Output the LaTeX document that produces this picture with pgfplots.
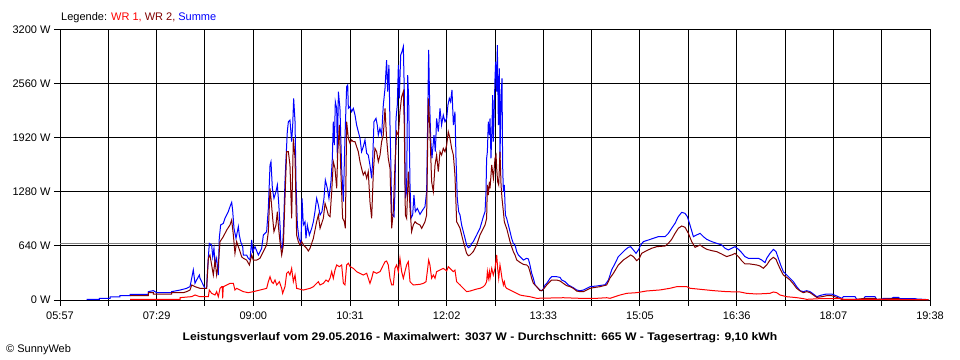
\documentclass[border=0pt]{standalone}
\usepackage{pgfplots}
\pgfplotsset{compat=1.18}
\usepackage{fontspec}
\setmainfont{Liberation Sans}
\definecolor{wrone}{RGB}{255,0,0}
\definecolor{wrtwo}{RGB}{128,0,0}
\definecolor{summe}{RGB}{0,0,255}
\definecolor{avggray}{RGB}{128,128,128}
\newcommand{\lblfont}{\fontsize{11bp}{13bp}\selectfont}
\begin{document}
\begin{tikzpicture}
\path[use as bounding box] (0,0) rectangle (960bp,360bp);
\begin{axis}[
  at={(60bp,60bp)}, anchor=south west,
  scale only axis, width=870bp, height=270bp,
  xmin=357, xmax=1178, ymin=0, ymax=3200,
  xtick={357,448.2,539.4,630.7,721.9,813.1,904.3,995.6,1086.8,1178},
  xticklabels={05:57,07:29,09:00,10:31,12:02,13:33,15:05,16:36,18:07,19:38},
  minor xtick={402.6,493.8,585.1,676.3,767.5,858.7,950.0,1041.2,1132.4},
  ytick={0,640,1280,1920,2560,3200},
  yticklabels={0 W,640 W,1280 W,1920 W,2560 W,3200 W},
  grid=both,
  major grid style={black, line width=1bp},
  minor grid style={black, line width=1bp},
  tick align=outside,
  major tick length=6bp, minor tick length=6bp,
  tick style={black, line width=1bp},
  xtick pos=left, ytick pos=left,
  axis line style={black, line width=1bp},
  every tick label/.append style={font=\lblfont, text=black},
  xticklabel style={yshift=-2bp},
  clip=false,
]
\addplot[avggray, line width=1bp] coordinates {(357,665) (1178,665)};
% Summe
\addplot[summe, line width=1bp] coordinates {
(382.2,8)(394.1,8)(394.1,20)(404.2,20)(404.2,36)(413.6,36)(413.6,51)(423.1,51)(423.1,67)(440.4,67)(440.4,99)(445.1,111)(448.2,87)(462.4,87)(462.4,99)(470.3,118)(476.5,138)(479.7,158)(482.8,356)(484.4,198)(486.5,250)(488.5,296)(489.1,257)(493.8,138)(495.4,138)(496.0,316)(497.9,671)(500.1,652)(501.1,513)(502.3,612)(503.3,415)(504.8,494)(506.4,296)(507.3,731)(508.6,889)(511.1,908)(512.7,968)(515.8,1047)(517.4,1106)(519.0,1157)(519.9,1066)(521.2,849)(523.1,731)(525.3,869)(526.2,770)(527.5,691)(529.4,632)(530.0,533)(533.1,533)(534.7,494)(536.3,474)(537.9,711)(538.8,573)(541.0,632)(544.2,533)(547.3,612)(548.9,770)(552.0,810)(553.6,1086)(555.2,1600)(556.1,1639)(557.4,1323)(558.9,1205)(560.8,1284)(562.1,1363)(563.3,1165)(564.6,889)(565.5,652)(566.8,592)(567.8,810)(569.3,1402)(570.3,1679)(571.5,1995)(572.5,2113)(574.0,2133)(575.6,1876)(576.6,2074)(577.5,2390)(578.8,2113)(579.7,1402)(581.0,889)(582.5,731)(584.4,671)(585.4,1205)(586.6,889)(588.2,928)(589.1,731)(590.4,889)(592.3,770)(594.5,849)(596.1,928)(597.6,1047)(599.2,1205)(600.8,1126)(602.4,1007)(604.2,1047)(606.1,1205)(607.4,1422)(609.3,1323)(610.8,1205)(612.7,1402)(614.0,1679)(614.9,2113)(615.9,1837)(616.8,2350)(618.1,2271)(618.7,1679)(619.7,2469)(621.2,2271)(622.8,1560)(624.4,1165)(625.9,1916)(627.5,2528)(628.5,2548)(629.1,2271)(630.6,2291)(632.2,2232)(633.8,2271)(635.4,2192)(636.9,2074)(638.5,1995)(640.1,1916)(641.6,1758)(643.2,1817)(644.8,1896)(646.4,1738)(647.9,1718)(649.5,1600)(651.1,1442)(652.0,1639)(653.3,2113)(655.2,2153)(656.4,2074)(657.4,1955)(658.9,2034)(660.5,1955)(662.1,2311)(663.7,2508)(665.2,2844)(666.2,2469)(667.4,2785)(668.4,2074)(669.3,1560)(670.0,1027)(670.9,1007)(672.2,987)(673.1,1284)(674.1,2153)(675.3,2311)(676.3,2785)(677.2,2390)(678.5,2903)(679.7,2943)(681.0,3002)(681.9,2469)(682.9,1205)(684.1,1284)(685.1,2666)(686.0,2390)(687.3,1363)(688.2,968)(689.8,1007)(691.0,1244)(692.3,1047)(694.2,1086)(696.7,1015)(699.2,1066)(701.4,1106)(703.0,1284)(703.9,2074)(704.9,2963)(705.8,2350)(706.8,1916)(708.0,1679)(709.9,1955)(711.2,1758)(712.4,2153)(714.0,1995)(715.6,2271)(717.1,2074)(718.7,2192)(720.3,2113)(721.9,2153)(723.1,2311)(724.4,2390)(725.6,2350)(726.9,2489)(728.2,2074)(729.7,2232)(730.7,1679)(731.9,1205)(733.2,1047)(734.5,1007)(736.0,889)(737.6,810)(739.2,731)(740.7,652)(742.3,620)(743.9,632)(745.5,671)(747.0,691)(750.2,770)(753.3,849)(756.5,987)(758.1,1047)(759.0,1284)(759.6,1679)(760.3,1758)(761.2,2113)(762.2,1955)(762.8,2153)(763.7,1679)(764.7,2074)(765.3,2429)(765.9,1876)(766.9,2311)(767.5,2627)(768.1,2824)(769.1,2469)(769.7,3022)(770.7,2074)(771.6,2745)(772.2,1679)(773.2,2390)(774.1,2627)(774.7,1600)(775.4,1284)(776.3,1363)(777.3,1007)(778.5,968)(780.1,889)(781.7,810)(783.2,731)(784.8,671)(786.4,652)(788.0,573)(789.5,533)(791.1,513)(792.7,494)(794.3,474)(797.4,494)(799.0,486)(800.5,415)(802.1,316)(803.7,257)(805.3,178)(806.8,158)(808.4,138)(810.0,118)(811.6,110)(813.1,130)(814.7,178)(816.3,197)(817.8,225)(819.4,257)(821.0,276)(825.7,276)(828.9,268)(830.4,237)(833.6,217)(836.7,178)(841.4,146)(844.6,118)(847.7,110)(850.9,118)(854.0,138)(857.2,158)(863.5,166)(869.8,178)(871.3,178)(874.5,237)(877.6,356)(880.8,435)(883.9,514)(887.0,553)(890.2,593)(893.3,624)(895.5,632)(898.1,593)(900.6,553)(902.8,593)(905.0,652)(907.5,692)(912.2,711)(916.9,731)(921.7,751)(928.0,751)(931.1,790)(934.2,850)(937.4,909)(940.5,988)(943.7,1039)(946.8,1027)(949.0,988)(951.5,889)(954.7,751)(957.8,771)(961.0,790)(964.1,751)(967.3,719)(972.0,692)(976.7,672)(981.4,652)(984.6,613)(987.7,593)(990.9,613)(994.0,632)(997.2,601)(1000.3,561)(1003.4,514)(1006.6,494)(1016.0,494)(1019.2,474)(1022.3,443)(1023.9,494)(1027.0,553)(1030.2,600)(1032.7,573)(1034.9,494)(1037.1,415)(1039.6,336)(1042.8,296)(1045.9,257)(1049.1,217)(1052.2,158)(1055.4,110)(1058.5,99)(1061.6,110)(1064.8,99)(1067.9,71)(1071.1,39)(1075.8,59)(1080.5,71)(1085.2,71)(1090.0,47)(1094.7,20)(1096.2,39)(1107.3,39)(1108.8,8)(1115.1,8)(1116.7,39)(1126.1,39)(1127.7,8)(1132.4,8)(1134.0,20)(1141.9,20)(1143.4,31)(1148.2,31)(1149.7,16)(1163.9,16)(1165.5,12)(1171.7,8)(1176.5,4)
};
% WR 2
\addplot[wrtwo, line width=1bp] coordinates {
(423.1,51)(440.4,51)(440.4,87)(445.1,87)(445.1,71)(462.4,71)(462.4,87)(473.4,87)(476.5,99)(479.7,118)(481.3,178)(484.4,158)(489.1,138)(495.4,138)(497.0,494)(498.5,533)(500.1,415)(501.7,296)(503.3,474)(504.8,296)(506.4,415)(508.0,691)(511.1,750)(514.3,829)(517.4,889)(519.0,948)(520.6,770)(522.1,553)(523.7,691)(525.3,632)(526.9,573)(528.4,513)(530.0,494)(533.1,474)(535.7,415)(537.9,533)(539.4,474)(542.6,474)(545.7,494)(548.9,573)(552.0,652)(553.6,810)(555.2,1323)(556.1,1205)(557.7,968)(558.9,810)(560.8,889)(562.1,1047)(563.3,849)(564.6,691)(566.2,533)(567.8,652)(569.3,1205)(570.9,1758)(572.5,1758)(574.0,1600)(575.6,968)(577.2,1916)(578.8,1679)(580.3,770)(581.9,691)(583.5,652)(585.1,691)(586.6,652)(588.2,632)(589.8,612)(591.3,581)(592.9,612)(596.1,731)(599.2,928)(600.8,1007)(602.4,849)(605.5,968)(607.1,1145)(608.6,1086)(610.2,1007)(611.8,987)(613.4,1284)(614.9,1639)(616.5,1560)(618.1,1323)(619.0,1718)(620.6,2074)(621.8,1600)(623.7,968)(625.3,928)(626.3,849)(627.5,2113)(629.1,1916)(630.7,1857)(632.2,1896)(633.8,1876)(635.4,1876)(636.9,1817)(638.5,1758)(640.1,1639)(641.6,1560)(643.2,1481)(644.8,1521)(646.4,1442)(647.9,1521)(649.5,1165)(651.1,968)(652.7,1521)(654.2,1797)(655.8,1758)(657.4,1639)(659.0,1718)(660.5,1876)(662.1,1955)(663.7,2271)(665.2,1916)(666.8,1679)(668.4,1560)(670.0,849)(671.5,1047)(673.1,1600)(674.7,1995)(676.3,1955)(677.8,2232)(679.4,2410)(681.0,2469)(681.9,2074)(682.9,1007)(684.1,968)(685.7,1521)(687.3,1086)(688.8,810)(690.4,889)(692.0,928)(693.6,908)(696.7,889)(698.3,849)(699.9,889)(701.4,928)(703.0,1007)(704.6,2390)(706.1,1995)(707.7,1402)(709.3,1284)(710.9,1600)(712.4,1718)(714.0,1521)(715.6,1758)(717.1,1718)(718.7,1797)(720.3,1758)(721.9,1837)(723.4,1995)(725.0,1916)(726.6,1797)(728.2,1718)(729.7,1481)(731.3,928)(732.9,889)(734.5,849)(737.6,691)(740.7,553)(742.3,525)(743.9,533)(747.0,573)(750.2,652)(753.3,770)(754.9,810)(756.5,849)(758.1,889)(759.6,968)(760.3,1363)(761.2,1244)(762.2,1402)(762.8,1323)(764.4,1600)(766.0,1442)(767.5,1679)(768.5,1718)(769.1,1560)(770.0,1402)(771.0,1363)(772.2,1758)(773.2,1363)(774.1,1205)(775.4,1047)(776.3,928)(777.3,889)(778.5,849)(780.1,770)(781.7,691)(783.2,632)(784.8,573)(786.4,533)(788.0,474)(791.1,446)(794.3,422)(797.4,415)(799.0,395)(800.5,336)(802.1,257)(803.7,197)(806.8,158)(810.0,110)(811.6,110)(813.1,126)(816.3,178)(819.4,217)(821.0,237)(825.7,237)(828.9,225)(832.0,197)(835.1,170)(838.3,158)(841.4,138)(844.6,106)(847.7,99)(850.9,99)(854.0,118)(857.2,138)(860.3,146)(866.6,158)(872.9,178)(876.0,260)(879.2,316)(883.9,415)(888.6,474)(893.3,514)(895.5,534)(898.1,514)(901.2,466)(903.7,494)(905.9,553)(910.6,585)(915.4,613)(920.1,632)(928.0,640)(931.1,672)(934.2,719)(937.4,790)(940.5,850)(943.7,877)(946.8,862)(950.0,790)(953.1,692)(956.3,624)(961.0,652)(964.1,624)(967.3,601)(972.0,585)(976.7,573)(981.4,545)(986.1,514)(990.9,534)(994.0,553)(997.2,514)(1000.3,466)(1003.4,427)(1008.2,427)(1014.5,415)(1017.6,403)(1020.7,376)(1023.9,415)(1027.0,474)(1030.2,506)(1032.7,482)(1034.9,415)(1037.1,355)(1039.6,296)(1042.8,268)(1045.9,237)(1049.1,189)(1052.2,138)(1055.4,107)(1058.5,87)(1061.6,99)(1064.8,87)(1067.9,59)(1071.1,31)(1075.8,39)(1080.5,51)(1085.2,51)(1090.0,31)(1094.7,8)(1108.8,8)(1116.7,20)(1126.1,20)(1127.7,8)(1143.4,16)(1148.2,16)(1149.7,8)(1176.5,4)
};
% WR 1
\addplot[wrone, line width=1bp] coordinates {
(423.1,8)(470.3,8)(470.3,28)(481.3,40)(484.4,59)(489.1,39)(497.0,39)(497.9,118)(500.1,79)(503.3,59)(504.8,99)(506.4,39)(508.0,138)(509.5,158)(510.2,158)(510.5,20)(511.1,158)(514.3,178)(517.4,197)(520.6,197)(522.1,118)(523.7,138)(526.9,118)(530.0,99)(534.7,87)(539.4,99)(545.7,118)(552.0,138)(553.6,217)(555.2,276)(556.7,217)(558.3,197)(559.9,237)(561.5,178)(564.0,217)(566.2,138)(567.1,79)(569.3,158)(570.9,316)(572.5,336)(574.0,296)(575.6,375)(577.2,217)(578.8,296)(580.3,138)(586.6,118)(592.9,138)(596.1,158)(599.2,197)(600.8,217)(602.4,178)(605.5,197)(608.0,237)(610.2,217)(611.8,257)(613.4,336)(614.9,257)(616.5,355)(618.1,415)(620.6,395)(622.8,415)(624.4,197)(625.9,178)(627.5,415)(629.1,435)(630.7,395)(633.8,375)(636.9,336)(640.1,316)(643.2,296)(646.4,316)(649.5,197)(651.1,257)(652.7,336)(655.8,316)(659.0,336)(662.1,415)(663.7,454)(665.2,462)(666.8,415)(668.4,257)(670.0,178)(671.5,178)(673.1,375)(674.7,415)(676.3,336)(677.8,494)(679.4,336)(681.0,257)(682.5,336)(684.1,415)(685.7,454)(687.3,217)(688.8,197)(690.4,178)(696.7,186)(699.9,197)(702.4,217)(703.6,336)(704.9,474)(706.1,415)(707.7,257)(709.3,296)(710.9,257)(712.4,336)(715.6,355)(718.7,375)(721.9,344)(723.4,395)(725.0,375)(728.2,336)(729.7,355)(731.3,217)(734.5,178)(737.6,138)(740.7,99)(743.9,106)(747.0,118)(750.2,130)(753.3,138)(756.5,158)(758.1,178)(759.6,217)(760.3,336)(761.2,257)(762.2,336)(762.8,257)(764.4,375)(765.9,296)(767.5,375)(768.5,474)(769.1,533)(770.0,375)(771.0,257)(772.2,415)(773.2,336)(774.1,257)(775.4,178)(776.3,217)(777.3,158)(778.5,138)(781.7,118)(784.8,99)(788.0,79)(791.1,59)(794.3,51)(800.5,39)(806.8,20)(832.0,27)(847.7,20)(863.5,20)(872.9,27)(876.0,20)(880.8,40)(885.5,59)(891.8,79)(901.2,87)(910.6,107)(923.2,119)(932.7,139)(939.0,158)(948.4,158)(951.5,139)(961.0,127)(973.6,111)(986.1,99)(998.7,95)(1005.0,79)(1014.5,71)(1027.0,79)(1030.2,95)(1033.3,87)(1036.5,59)(1042.8,39)(1052.2,28)(1058.5,16)(1061.6,8)(1074.2,16)(1094.7,16)(1096.2,8)(1176.5,4)
};
\end{axis}
\node[anchor=base west, inner sep=0pt, font=\lblfont] at (61bp,339.5bp)
  {Legende: \textcolor{wrone}{WR 1,} \textcolor{wrtwo}{WR 2,} \textcolor{summe}{Summe}};
\node[anchor=base, inner sep=0pt, font=\lblfont\bfseries] at (480bp,20bp)
  {\scalebox{1.106}[1]{Leistungsverlauf vom 29.05.2016 - Maximalwert: 3037 W - Durchschnitt: 665 W - Tagesertrag: 9,10 kWh}};
\node[anchor=base west, inner sep=0pt, font=\lblfont] at (6bp,7.7bp) {\textcopyright\ SunnyWeb};
\end{tikzpicture}
\end{document}
